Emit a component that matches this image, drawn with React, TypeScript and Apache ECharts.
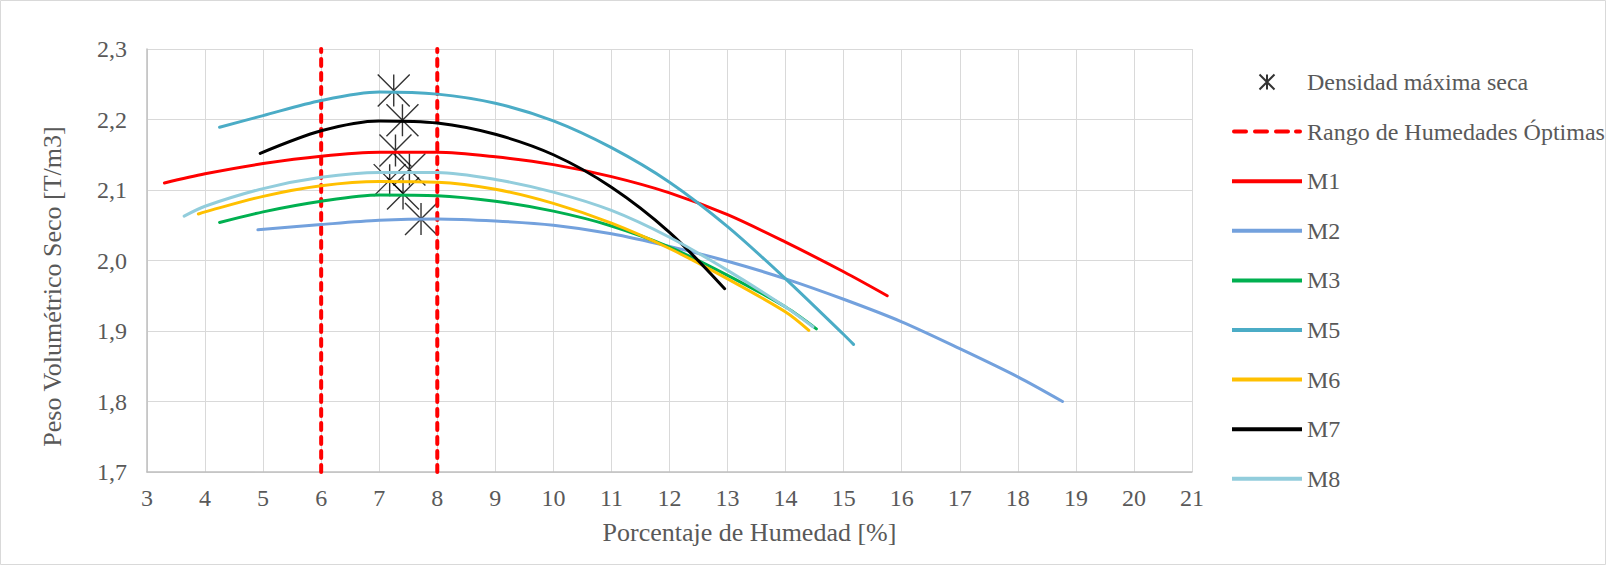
import React, { useEffect, useRef } from "react";
import * as echarts from "echarts";

// ---------- data ----------
const maxDensityX = [7.25, 7.4, 7.28, 7.52, 7.18, 7.41, 7.72];
const maxDensityY = [2.241, 2.199, 2.156, 2.129, 2.114, 2.095, 2.059];

const optimalRange = [6, 8];

const m1X = [3.3, 4, 5, 6, 7, 8, 9, 10, 11, 12, 13, 14, 15, 15.75];
const m1Y = [2.11, 2.123, 2.1375, 2.148, 2.1535, 2.1535, 2.147, 2.136, 2.119, 2.096, 2.065, 2.026, 1.984, 1.95];

const m2X = [4.91, 6, 7, 8, 9, 10, 11, 12, 13, 14, 15, 16, 17, 18, 18.77];
const m2Y = [2.0435, 2.051, 2.057, 2.059, 2.056, 2.05, 2.038, 2.02, 1.999, 1.974, 1.945, 1.913, 1.875, 1.835, 1.8];

const m3X = [4.25, 5, 6, 7, 8, 9, 10, 11, 12, 13, 14, 14.53];
const m3Y = [2.054, 2.069, 2.084, 2.093, 2.092, 2.084, 2.07, 2.049, 2.019, 1.979, 1.934, 1.903];

const m5X = [4.25, 5, 6, 7, 8, 9, 10, 11, 12, 13, 14, 15, 15.17];
const m5Y = [2.189, 2.2055, 2.227, 2.239, 2.236, 2.223, 2.198, 2.16, 2.111, 2.048, 1.974, 1.895, 1.881];

const m6X = [3.885, 4, 5, 6, 7, 8, 9, 10, 11, 12, 13, 14, 14.4];
const m6Y = [2.066, 2.069, 2.091, 2.106, 2.112, 2.111, 2.101, 2.081, 2.053, 2.017, 1.974, 1.927, 1.901];

const m7X = [4.95, 6, 7, 8, 9, 10, 11, 12, 12.95];
const m7Y = [2.152, 2.184, 2.198, 2.195, 2.179, 2.15, 2.104, 2.04, 1.96];

const m8X = [3.64, 4, 5, 6, 7, 8, 9, 10, 11, 12, 13, 14, 14.47];
const m8Y = [2.063, 2.077, 2.102, 2.118, 2.125, 2.125, 2.115, 2.097, 2.071, 2.033, 1.986, 1.934, 1.906];

const curveNames = ["M1", "M2", "M3", "M5", "M6", "M7", "M8"];
const curveColors = ["#ff0000", "#73a1dd", "#00b050", "#4bacc6", "#ffc000", "#000000", "#92cddc"];
const curveXs = [m1X, m2X, m3X, m5X, m6X, m7X, m8X];
const curveYs = [m1Y, m2Y, m3Y, m5Y, m6Y, m7Y, m8Y];

const scatterName = "Densidad máxima seca";
const rangeName = "Rango de Humedades Óptimas";

const xMin = 3;
const xMax = 21;
const yMin = 1.7;
const yMax = 2.3;

const FONT = '"Liberation Serif", "Times New Roman", serif';
const TEXT = "#595959";

const ASTERISK = "path://M0,0L10,10M10,0L0,10M5,0L5,10";
const SOLID_ICON = "path://M0,0H70V4H0Z";
const DASH_ICON = "path://M2,0H14A2,2 0 0 1 14,4H2A2,2 0 0 1 2,0Z M23,0H35A2,2 0 0 1 35,4H23A2,2 0 0 1 23,0Z M44,0H56A2,2 0 0 1 56,4H44A2,2 0 0 1 44,0Z M64,0H68A2,2 0 0 1 68,4H64A2,2 0 0 1 64,0Z";

const zip = (xs: number[], ys: number[]) => xs.map((x, i) => [x, ys[i]]);

export default function App() {
  const ref = useRef<HTMLDivElement>(null);

  useEffect(() => {
    if (!ref.current) return;
    const chart = echarts.init(ref.current, undefined, { renderer: "svg" });

    const rangeSeries = optimalRange.map((x) => ({
      name: rangeName,
      type: "line",
      data: [
        [x, yMin],
        [x, yMax],
      ],
      symbol: "none",
      showSymbol: false,
      lineStyle: { color: "#ff0000", width: 4, type: [7, 7], cap: "round" },
      itemStyle: { color: "#ff0000" },
      z: 3,
    }));

    const curveSeries = curveNames.map((name, i) => ({
      name,
      type: "line",
      data: zip(curveXs[i], curveYs[i]),
      smooth: 0.3,
      symbol: "none",
      showSymbol: false,
      lineStyle: { color: curveColors[i], width: 3, cap: "round" },
      itemStyle: { color: curveColors[i] },
      z: 4,
    }));

    const option: any = {
      animation: false,
      backgroundColor: "#ffffff",
      textStyle: { fontFamily: FONT },
      grid: { left: 147, right: 415, top: 49, bottom: 94, containLabel: false },
      xAxis: {
        type: "value",
        min: xMin,
        max: xMax,
        interval: 1,
        name: "Porcentaje de Humedad [%]",
        nameLocation: "middle",
        nameGap: 47,
        nameTextStyle: { fontSize: 26, color: TEXT, fontFamily: FONT, padding: [0, 0, 0, 160] },
        axisLine: { show: true, lineStyle: { color: "#bfbfbf", width: 1.5 } },
        axisTick: { show: false },
        axisLabel: { fontSize: 24, color: TEXT, fontFamily: FONT, margin: 14 },
        splitLine: { show: true, lineStyle: { color: "#d9d9d9", width: 1 } },
      },
      yAxis: {
        type: "value",
        min: yMin,
        max: yMax,
        interval: 0.1,
        name: "Peso Volumétrico Seco [T/m3]",
        nameLocation: "middle",
        nameGap: 82,
        nameRotate: 90,
        nameTextStyle: { fontSize: 26, color: TEXT, fontFamily: FONT, padding: [0, 52, 0, 0] },
        axisLine: { show: true, lineStyle: { color: "#bfbfbf", width: 1.5 } },
        axisTick: { show: false },
        axisLabel: {
          fontSize: 24,
          color: TEXT,
          fontFamily: FONT,
          margin: 20,
          formatter: (v: number) => v.toFixed(1).replace(".", ","),
        },
        splitLine: { show: true, lineStyle: { color: "#d9d9d9", width: 1 } },
      },
      legend: {
        orient: "vertical",
        left: 1232,
        top: 70,
        itemWidth: 70,
        itemHeight: 15,
        itemGap: 25.6,
        padding: 0,
        symbolKeepAspect: true,
        textStyle: { fontSize: 24, color: TEXT, fontFamily: FONT },
        data: [
          { name: scatterName, icon: ASTERISK, itemStyle: { color: "rgba(0,0,0,0)", borderColor: "#000000", borderWidth: 2 } },
          { name: rangeName, icon: DASH_ICON, itemStyle: { color: "#ff0000", borderWidth: 0 } },
          ...curveNames.map((n, i) => ({
            name: n,
            icon: SOLID_ICON,
            itemStyle: { color: curveColors[i], borderWidth: 0 },
          })),
        ],
      },
      graphic: [
        {
          type: "rect",
          shape: { x: 0.5, y: 0.5, width: 1605, height: 564 },
          style: { fill: "none", stroke: "#d9d9d9", lineWidth: 1 },
          silent: true,
          z: -10,
        },
      ],
      series: [
        {
          name: scatterName,
          type: "scatter",
          data: zip(maxDensityX, maxDensityY),
          symbol: ASTERISK,
          symbolSize: 32,
          symbolKeepAspect: true,
          itemStyle: { color: "rgba(0,0,0,0)", borderColor: "#000000", borderWidth: 1.4 },
          z: 2,
        },
        ...rangeSeries,
        ...curveSeries,
      ],
    };

    chart.setOption(option);
    return () => chart.dispose();
  }, []);

  return (
    <div
      ref={ref}
      style={{ position: "fixed", left: 0, top: 0, width: 1607, height: 566 }}
    />
  );
}
